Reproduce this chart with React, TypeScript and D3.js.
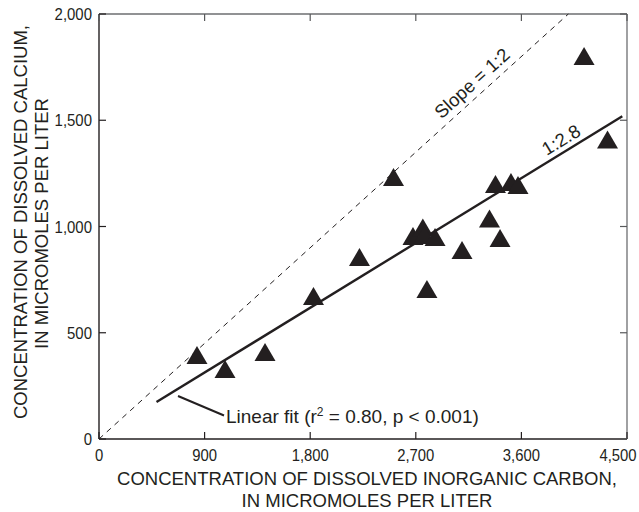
import React from "react";
import * as d3 from "d3";

// Dissolved inorganic carbon (x) and dissolved calcium (y), micromoles per liter
const dicValues = [835, 1074, 1415, 1828, 2220, 2510, 2676, 2760, 2770, 2864, 2795, 3094, 3328, 3418, 3379, 3511, 3571, 4134, 4334];
const calciumValues = [395, 329, 409, 673, 856, 1233, 955, 995, 960, 951, 706, 889, 1038, 946, 1200, 1209, 1195, 1802, 1409];

const xTickValues = [0, 900, 1800, 2700, 3600, 4500];
const yTickValues = [0, 500, 1000, 1500, 2000];

// Least-squares fit drawn across the sampled range
const fitSlope = 0.3387;
const fitIntercept = 8;
const fitRange = [490, 4460];

// Reference line, Ca:DIC = 1:2
const refSlope = 0.5;

const W = 639;
const H = 512;
const INK = "#231f20";
const FONT = "'Liberation Sans', Arial, Helvetica, sans-serif";

export default function App() {
  const x = d3.scaleLinear().domain([0, 4500]).range([99, 627]);
  const y = d3.scaleLinear().domain([0, 2000]).range([439, 14]);
  const fmt = d3.format(",");

  const [x0, x1] = x.range();
  const [y0, y1] = y.range();
  const tickLen = 7;

  const line = d3
    .line<[number, number]>()
    .x((d) => x(d[0]))
    .y((d) => y(d[1]));

  const fitPath = line(fitRange.map((v) => [v, fitIntercept + fitSlope * v] as [number, number]));
  const refPath = line([
    [0, 0],
    [2000 / refSlope, 2000],
  ]);

  const triangle = (cx: number, cy: number) => {
    const p = d3.path();
    p.moveTo(cx, cy - 9);
    p.lineTo(cx + 10.5, cy + 9);
    p.lineTo(cx - 10.5, cy + 9);
    p.closePath();
    return p.toString();
  };

  // angle of a line with given value slope, in screen degrees
  const angleOf = (s: number) => {
    const dx = x(1000) - x(0);
    const dy = y(0) - y(1000 * s);
    return (Math.atan2(dy, dx) * 180) / Math.PI;
  };
  const refAngle = angleOf(refSlope);
  const fitAngle = angleOf(fitSlope);

  const refLabelX = 3256;
  const fitLabelX = 3991;

  // the last x label is pulled in so it stays on the page
  const xLabelPos = (v: number) => (v === xTickValues[xTickValues.length - 1] ? x(v) - 9 : x(v));

  return (
    <svg
      width={W}
      height={H}
      viewBox={`0 0 ${W} ${H}`}
      style={{ position: "absolute", left: 0, top: 0, background: "#fff" }}
      fontFamily={FONT}
    >
      <rect x={0} y={0} width={W} height={H} fill="#fff" />

      {/* frame: top and right in grey, left and bottom in black */}
      <line x1={x0} x2={x1} y1={y1} y2={y1} stroke="#6d6e71" strokeWidth={1.3} />
      <line x1={x1} x2={x1} y1={y1} y2={y0} stroke="#6d6e71" strokeWidth={1.3} />
      <line x1={x0} x2={x0} y1={y1} y2={y0} stroke={INK} strokeWidth={1.4} />
      <line x1={x0} x2={x1} y1={y0} y2={y0} stroke={INK} strokeWidth={1.4} />

      {/* inward ticks on all four sides */}
      {xTickValues.map((v) => (
        <g key={`xt${v}`}>
          <line x1={x(v)} x2={x(v)} y1={y0} y2={y0 - tickLen} stroke={INK} strokeWidth={1.2} />
          <line x1={x(v)} x2={x(v)} y1={y1} y2={y1 + tickLen} stroke="#58595b" strokeWidth={1.2} />
          <g transform={`translate(${xLabelPos(v)},461) scale(0.9,1)`}>
            <text textAnchor="middle" fontSize={16.5} fill={INK}>
              {fmt(v)}
            </text>
          </g>
        </g>
      ))}
      {yTickValues.map((v) => (
        <g key={`yt${v}`}>
          <line x1={x0} x2={x0 + tickLen} y1={y(v)} y2={y(v)} stroke={INK} strokeWidth={1.2} />
          <line x1={x1} x2={x1 - tickLen} y1={y(v)} y2={y(v)} stroke="#58595b" strokeWidth={1.2} />
          <g transform={`translate(92,${y(v) + 6.2}) scale(0.88,1)`}>
            <text textAnchor="end" fontSize={17} fill={INK}>
              {fmt(v)}
            </text>
          </g>
        </g>
      ))}

      {/* 1:2 reference line */}
      <path d={refPath ?? ""} fill="none" stroke={INK} strokeWidth={1} strokeDasharray="5.5,5" />

      {/* linear fit */}
      <path d={fitPath ?? ""} fill="none" stroke={INK} strokeWidth={2.4} />

      {/* samples */}
      {dicValues.map((v, i) => (
        <path key={`p${i}`} d={triangle(x(v), y(calciumValues[i]))} fill={INK} />
      ))}

      {/* line labels */}
      <g transform={`translate(${x(refLabelX)},${y(refLabelX * refSlope)}) rotate(${-refAngle})`}>
        <text y={-7} textAnchor="middle" fontSize={18.5} fill={INK}>
          Slope = 1:2
        </text>
      </g>
      <g transform={`translate(${x(fitLabelX)},${y(fitIntercept + fitSlope * fitLabelX)}) rotate(${-fitAngle})`}>
        <text y={-5.5} textAnchor="middle" fontSize={18.5} fill={INK}>
          1:2.8
        </text>
      </g>

      {/* fit annotation with leader */}
      <line x1={178} y1={396} x2={224} y2={415.5} stroke={INK} strokeWidth={2} />
      <text x={226} y={423} fontSize={19} fill={INK}>
        Linear fit (r
        <tspan fontSize={12} dy={-7}>2</tspan>
        <tspan dy={7}> = 0.80, p &lt; 0.001)</tspan>
      </text>

      {/* axis titles */}
      <text x={(x0 + x1) / 2 + 4} y={485} textAnchor="middle" fontSize={18.5} fill={INK}>
        CONCENTRATION OF DISSOLVED INORGANIC CARBON,
      </text>
      <text x={(x0 + x1) / 2 + 4} y={506.5} textAnchor="middle" fontSize={18.5} fill={INK}>
        IN MICROMOLES PER LITER
      </text>
      <g transform={`translate(27,222) rotate(-90)`}>
        <text x={0} y={0} textAnchor="middle" fontSize={18.5} fill={INK}>
          CONCENTRATION OF DISSOLVED CALCIUM,
        </text>
      </g>
      <g transform={`translate(48,223.5) rotate(-90)`}>
        <text x={0} y={0} textAnchor="middle" fontSize={18.5} fill={INK}>
          IN MICROMOLES PER LITER
        </text>
      </g>
    </svg>
  );
}
